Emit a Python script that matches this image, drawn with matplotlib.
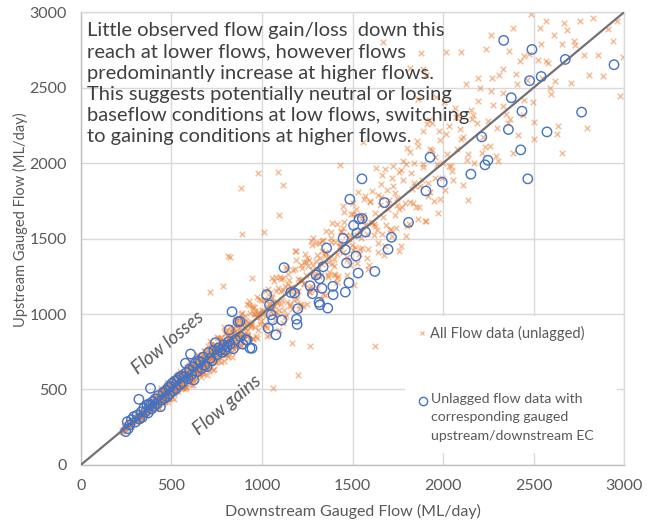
import numpy as np
import matplotlib.pyplot as plt
from matplotlib.lines import Line2D
from matplotlib.patches import Rectangle

plt.rcParams['font.family'] = ['Lato', 'DejaVu Sans']

# all flow data (downstream, upstream) in ML/day, grouped by flow range
all_low = [
    (226, 231), (232, 222), (237, 239), (241, 256), (245, 242), (249, 235), (254, 263), (257, 257),
    (261, 254), (266, 286), (270, 268), (274, 287), (277, 260), (281, 285), (286, 294), (289, 279),
    (293, 320), (296, 290), (300, 313), (303, 282), (307, 307), (312, 329), (315, 300), (319, 326),
    (322, 320), (327, 350), (331, 317), (334, 346), (338, 310), (343, 348), (347, 364), (350, 343),
    (354, 334), (359, 389), (362, 365), (366, 353), (371, 381), (375, 399), (378, 373), (383, 354),
    (387, 403), (391, 391), (394, 383), (398, 437),
    (229, 216), (243, 249), (252, 268), (264, 262), (279, 259), (284, 295), (298, 303), (309, 294),
    (317, 342), (325, 317), (336, 339), (341, 306), (352, 372), (357, 368), (368, 362), (373, 406),
    (381, 357), (389, 389), (396, 415),
    (305, 298), (312, 325), (318, 299), (324, 328), (330, 354), (337, 335), (344, 330), (349, 359),
    (355, 374), (361, 333), (368, 368), (374, 387), (380, 373), (386, 411), (393, 374), (399, 401),
    (405, 415), (412, 397), (418, 453), (424, 419), (430, 407), (437, 458), (444, 452), (450, 420),
    (457, 484), (463, 449), (470, 470), (477, 497), (484, 443), (491, 497),
]

all_mid = [
    (402, 382), (405, 441), (409, 405), (412, 424), (415, 374), (419, 469), (421, 404), (425, 446),
    (428, 398), (431, 435), (434, 469), (438, 425), (441, 507), (444, 417), (447, 456), (451, 410),
    (453, 485), (457, 457), (460, 451), (463, 509), (467, 416), (470, 489), (472, 500), (476, 452),
    (479, 484), (483, 546), (486, 447), (489, 504), (492, 487), (495, 540), (499, 479), (502, 527),
    (505, 444), (509, 519), (511, 567), (515, 484), (518, 518), (521, 557), (525, 509), (528, 491),
    (530, 551), (534, 587), (538, 490), (541, 546), (544, 577), (547, 536), (551, 595), (553, 536),
    (557, 590), (560, 554), (564, 513), (566, 577), (570, 616), (573, 544), (577, 577), (580, 603),
    (583, 519), (586, 592), (590, 549), (593, 646), (596, 584), (600, 576), (603, 633), (606, 527),
    (610, 628), (613, 576), (616, 678), (620, 620), (622, 572), (626, 670), (629, 610), (633, 639),
    (636, 572), (639, 677), (642, 610), (646, 724), (649, 636), (652, 606), (656, 676), (659, 712),
    (662, 583), (666, 659), (669, 702), (672, 645), (676, 615), (679, 693), (683, 758), (686, 645),
    (690, 690), (694, 722), (697, 599),
    (433, 376), (439, 428), (446, 494), (455, 477), (461, 433), (469, 475), (474, 542), (481, 435),
    (487, 469), (497, 539), (504, 516), (513, 439), (519, 550), (527, 489), (536, 600), (543, 536),
    (549, 569), (555, 508), (562, 616), (568, 568), (575, 506), (582, 624), (588, 567), (598, 691),
    (605, 569), (611, 640), (618, 633), (624, 557), (631, 684), (638, 630), (644, 729), (651, 620),
    (658, 658), (664, 704), (671, 607), (678, 662), (684, 758), (688, 696), (692, 642), (699, 724),
    (411, 395), (420, 449), (427, 384), (436, 445), (443, 496), (452, 447), (459, 427), (466, 489),
    (474, 517), (482, 419), (488, 488), (496, 526), (503, 488), (510, 566), (517, 476), (524, 529),
    (531, 552), (539, 507), (546, 622), (552, 541), (559, 509), (567, 612), (574, 591), (581, 517),
    (589, 648), (595, 565), (602, 602), (609, 652), (617, 531), (624, 636), (631, 663), (638, 632),
    (645, 729), (653, 607), (660, 640), (667, 727), (674, 607), (681, 708), (689, 696), (696, 654),
    (508, 508), (514, 502), (520, 554), (529, 539), (535, 509), (542, 568), (549, 542), (556, 576),
    (562, 522), (571, 612), (578, 557), (585, 589), (591, 605), (598, 562), (606, 639), (614, 603),
    (621, 595), (628, 677), (635, 631), (643, 662), (650, 658), (657, 602), (664, 692), (671, 671),
    (679, 659), (686, 727), (693, 647),
]

all_upper_mid = [
    (702, 702), (706, 768), (710, 655), (713, 737), (717, 709), (721, 800), (724, 676), (728, 768),
    (733, 636), (736, 752), (740, 797), (744, 719), (748, 682), (751, 850), (755, 763), (760, 718),
    (763, 797), (767, 843), (771, 754), (775, 681), (779, 830), (782, 782), (786, 751), (790, 912),
    (794, 733), (798, 824), (802, 873), (806, 797), (809, 729), (813, 858), (818, 836), (821, 767),
    (825, 916), (829, 802), (833, 842), (837, 717), (841, 906), (845, 882), (849, 830), (852, 955),
    (857, 782), (861, 861), (865, 922), (868, 820), (873, 959), (877, 867), (881, 910), (884, 787),
    (889, 1006), (893, 854), (897, 946), (901, 832), (905, 915), (909, 989), (913, 883), (917, 1068),
    (921, 860), (925, 945), (929, 837), (933, 1005), (937, 937), (942, 921), (946, 1050), (950, 835),
    (955, 997), (959, 1022), (964, 911), (968, 979), (973, 1112), (978, 892), (983, 1015), (988, 977),
    (993, 1091), (997, 953),
    (704, 658), (712, 823), (719, 700), (731, 626), (739, 797), (746, 746), (757, 688), (765, 795),
    (773, 843), (784, 743), (792, 689), (800, 894), (811, 800), (819, 755), (827, 849), (836, 749),
    (843, 876), (855, 788), (863, 874), (871, 973), (879, 856), (887, 795), (896, 954), (907, 907),
    (915, 867), (927, 1060), (939, 927), (951, 1038), (966, 853), (981, 1007),
    (703, 787), (710, 625), (718, 761), (726, 711), (733, 792), (741, 682), (749, 771), (756, 839),
    (764, 733), (772, 772), (780, 811), (788, 733), (796, 876), (804, 788), (812, 715), (820, 828),
    (829, 887), (838, 796), (846, 770), (855, 966),
    (701, 714), (708, 742), (715, 676), (723, 714), (730, 791), (738, 711), (745, 763), (753, 758),
    (761, 724), (769, 820), (777, 763), (785, 813), (793, 793), (801, 738), (810, 854), (818, 843),
    (826, 791), (835, 830), (843, 904), (852, 862), (860, 808), (869, 906), (877, 856),
    (862, 862), (870, 933), (878, 846), (886, 1003), (894, 808), (902, 913), (911, 955), (919, 853),
    (928, 1084), (936, 914), (945, 843), (954, 1046), (963, 998), (972, 844), (982, 1100), (991, 932),
]

all_high = [
    (1003, 1029), (1011, 932), (1018, 1150), (1024, 984), (1032, 1045), (1039, 863), (1045, 1140),
    (1053, 1108), (1060, 1032), (1066, 1218), (1074, 962), (1081, 1081), (1089, 1174), (1096, 1025),
    (1103, 1232), (1110, 1096), (1118, 1162), (1125, 979), (1133, 1310), (1139, 1080), (1147, 1222),
    (1155, 1050), (1162, 1177), (1170, 1292), (1177, 1131), (1185, 1416), (1192, 1099), (1200, 1231),
    (1208, 1067), (1215, 1326), (1223, 1223), (1231, 1199), (1238, 1399), (1246, 1068), (1253, 1318),
    (1261, 1359), (1269, 1187), (1277, 1294), (1284, 1501), (1292, 1158), (1300, 1351), (1308, 1291),
    (1316, 1470), (1324, 1255), (1331, 1418), (1339, 1130), (1347, 1382), (1355, 1549), (1363, 1257),
    (1371, 1371), (1379, 1504), (1387, 1333), (1395, 1268), (1404, 1477), (1412, 1596), (1420, 1254),
    (1429, 1448), (1437, 1549), (1446, 1408), (1455, 1606), (1463, 1520), (1472, 1357), (1481, 1500),
    (1490, 1664), (1498, 1459),
    (1007, 1021), (1021, 921), (1036, 1167), (1049, 1020), (1063, 1003), (1078, 1153), (1092, 893),
    (1107, 1153), (1121, 1027), (1136, 1295), (1151, 1151), (1166, 1035), (1181, 1297), (1196, 1146),
    (1211, 1228), (1227, 1055), (1242, 1346), (1257, 1169), (1272, 1486), (1288, 1252), (1303, 1175),
    (1319, 1374), (1334, 1483), (1350, 1123), (1366, 1347), (1382, 1479), (1399, 1321), (1416, 1238),
    (1433, 1473), (1451, 1674),
    (1001, 1001), (1013, 1098), (1026, 854), (1038, 1063), (1051, 1114), (1064, 1051), (1077, 1245),
    (1091, 999), (1104, 1064), (1118, 1239), (1132, 996), (1146, 1201), (1160, 1174), (1175, 1090),
    (1189, 1360), (1204, 1031), (1219, 1307), (1234, 1204), (1250, 1370), (1265, 1144), (1281, 1327),
    (1297, 1468), (1313, 1250), (1329, 1329), (1346, 1411), (1362, 1248), (1379, 1544), (1396, 1362),
    (1414, 1210), (1431, 1448), (1449, 1571), (1467, 1379), (1485, 1325),
    (1015, 1094), (1029, 909), (1043, 1070), (1057, 1236), (1071, 1015), (1085, 1071), (1100, 1243),
    (1114, 940), (1128, 1187), (1143, 1262), (1157, 1067), (1172, 1172), (1186, 1417), (1201, 1154),
    (1216, 1058), (1230, 1342), (1245, 1261), (1260, 1145), (1276, 1458), (1291, 1257), (1306, 1391),
    (1322, 1099), (1337, 1493), (1353, 1406), (1369, 1280), (1385, 1601), (1401, 1255), (1417, 1399),
    (1434, 1546), (1450, 1714), (1467, 1257), (1484, 1523),
]

all_upper_high = [
    (1504, 1662), (1513, 1445), (1522, 1339), (1531, 1807), (1541, 1564), (1550, 1434), (1560, 1654),
    (1569, 1781), (1579, 1532), (1589, 1327), (1598, 1742), (1608, 1608), (1618, 1521), (1628, 1970),
    (1639, 1467), (1649, 1723), (1659, 1858), (1669, 1644), (1680, 1453), (1691, 1818), (1701, 1752),
    (1712, 1558), (1723, 1981), (1734, 1656), (1745, 1771), (1756, 1414), (1768, 1954), (1779, 1886),
    (1791, 1737), (1802, 2099), (1814, 1596), (1826, 1826), (1838, 2003), (1850, 1711), (1862, 2113),
    (1875, 1847), (1887, 1972), (1899, 1614), (1912, 2256), (1925, 1810), (1938, 2083), (1951, 1746),
    (1965, 1994), (1978, 2215), (1992, 1902),
    (1508, 1191), (1527, 1655), (1546, 1503), (1565, 1762), (1584, 1429), (1604, 1604), (1623, 1668),
    (1643, 1413), (1663, 1919), (1684, 1590), (1705, 1562), (1726, 1847), (1748, 1724), (1770, 1448),
    (1793, 1994), (1816, 1740), (1840, 1866), (1864, 1629), (1889, 1995), (1914, 1780), (1940, 2266),
    (1956, 1901), (1970, 1667), (1985, 2152), (1997, 1997),
    (1503, 1737), (1522, 1522), (1540, 1429), (1559, 1615), (1578, 1370), (1597, 1750), (1617, 1598),
    (1636, 1557), (1656, 1775), (1676, 1394), (1697, 1738), (1717, 1902), (1738, 1571), (1759, 1696),
    (1780, 2015), (1802, 1586), (1824, 1933), (1846, 1846), (1868, 1711), (1891, 2209), (1914, 1868),
    (1501, 1423), (1518, 1696), (1535, 1395), (1553, 1634), (1570, 1590), (1588, 1299), (1606, 1815),
    (1624, 1582), (1642, 1791), (1661, 1531), (1679, 1963), (1698, 1698), (1717, 1516), (1736, 1804),
    (1755, 1938), (1775, 1706), (1795, 1515), (1815, 2075),
]

all_top = [
    (2008, 1823), (2021, 2061), (2035, 2247), (2049, 1947), (2063, 2364), (2078, 2090), (2093, 2223),
    (2108, 1855), (2124, 2523), (2139, 2062), (2155, 2349), (2171, 2002), (2188, 2262), (2204, 2495),
    (2221, 2172), (2238, 2753), (2256, 2112), (2273, 2382), (2291, 2048), (2309, 2581), (2328, 2375),
    (2346, 2327), (2365, 2743), (2384, 2065), (2404, 2587), (2423, 2675), (2443, 2321), (2463, 2547),
    (2484, 2986), (2504, 2274), (2525, 2682), (2547, 2562), (2568, 2943), (2590, 2497), (2612, 2847),
    (2635, 2245), (2658, 2786), (2681, 2879), (2705, 2532), (2729, 2784), (2753, 2940), (2778, 2717),
    (2803, 2584), (2829, 2960), (2855, 2712), (2881, 2576), (2908, 2890), (2935, 2810), (2962, 2938),
    (2990, 2700),
    (2015, 2190), (2044, 1980), (2072, 2305), (2101, 2160), (2131, 2020), (2162, 2290), (2195, 2410),
    (2229, 2105), (2262, 2480), (2297, 2230), (2333, 2620), (2370, 2290), (2407, 2520), (2445, 2710),
    (2494, 2405), (2540, 2790), (2580, 2660), (2620, 2540), (2665, 2925), (2720, 2810),
    (1832, 1733), (1856, 2146), (1881, 1885), (1905, 1615), (1930, 2096), (1955, 2041), (1980, 1762),
    (2006, 2403), (2031, 1978), (2057, 1888), (2083, 2320), (2110, 2173), (2136, 1752), (2163, 2319),
    (2190, 2562), (2217, 2066), (2245, 2281), (2272, 2563), (2300, 2015), (2329, 2464), (2357, 2263),
    (2386, 2892), (2415, 2183), (2445, 2416), (2474, 2721), (2504, 2158), (2534, 2894), (2565, 2678),
    (2596, 2456), (2627, 2191),
]

# stray readings well off the 1:1 line
all_stray = [
    (884, 1835), (980, 1934), (1118, 1857), (1086, 1943), (1092, 1656), (890, 1528), (815, 1382),
    (822, 1380), (716, 1148), (945, 1237), (1009, 1545), (785, 1183), (1198, 597), (1060, 508),
    (1164, 807), (1267, 785), (1623, 785), (1669, 2801), (1880, 2726), (1887, 2624), (1818, 2631),
    (1864, 2421), (1905, 2583), (1963, 2435), (1923, 2285), (1560, 2141), (1431, 1987), (2018, 2737),
    (2101, 2737), (2266, 2848), (2793, 2233), (2656, 2067), (2977, 2443),
]

# flow data with matching upstream/downstream EC
ec_low = [
    (248, 221), (257, 287), (262, 240), (270, 265), (280, 300), (293, 320), (301, 284), (310, 330),
    (321, 435), (325, 305), (334, 352), (340, 318), (348, 376), (358, 353), (366, 398), (372, 345),
    (378, 405), (385, 508), (385, 397), (392, 372), (398, 420), (405, 390), (412, 438), (420, 405),
    (428, 460), (440, 386), (446, 430), (455, 480), (462, 442), (470, 495), (477, 452), (484, 515),
    (490, 470), (495, 519), (503, 540), (510, 490), (518, 555), (526, 505), (532, 563), (540, 578),
    (548, 532), (555, 590), (563, 548), (569, 585), (578, 674), (584, 612), (592, 572), (600, 635),
    (606, 735), (612, 598), (620, 650), (624, 563), (632, 672), (642, 618), (650, 690), (661, 684),
    (668, 640), (676, 715), (685, 660), (697, 651), (705, 745), (716, 707), (724, 690), (735, 760),
    (743, 810), (752, 730), (760, 775), (771, 762), (780, 745), (790, 795), (798, 760), (807, 784),
    (816, 817), (825, 800), (835, 1015), (842, 770), (854, 829), (868, 949), (881, 850), (895, 800),
    (911, 829), (918, 828), (934, 774), (945, 773),
]

ec_high = [
    (2334, 2812), (2490, 2752), (2674, 2686), (2943, 2651), (2477, 2545), (2541, 2573), (2376, 2432),
    (2435, 2343), (2764, 2337), (2360, 2222), (2573, 2206), (2213, 2173), (2428, 2087), (1928, 2038),
    (2247, 2018), (2231, 1988), (1995, 1873), (2153, 1926), (2467, 1895), (1552, 1895), (1905, 1815),
    (1485, 1760), (1676, 1738), (1809, 1607), (1506, 1587), (1536, 1629), (1554, 1632), (1572, 1543),
    (1524, 1536), (1448, 1501), (1715, 1508), (1357, 1437), (1460, 1426), (1696, 1428), (1519, 1384),
    (1467, 1338), (1338, 1313), (1122, 1307), (1299, 1258), (1531, 1271), (1623, 1282), (1318, 1234),
    (1265, 1187), (1391, 1183), (1331, 1170), (1480, 1207), (1460, 1145), (1279, 1134), (1393, 1128),
    (1159, 1143), (1180, 1139), (1026, 1128), (1315, 1077), (1320, 1061), (1363, 1039), (1042, 1061),
    (1198, 1035), (1051, 995), (1060, 962), (1109, 960), (1191, 966), (1194, 931), (879, 951),
    (1035, 906), (1077, 862), (819, 895),
]

all_pts = np.array(all_low + all_mid + all_upper_mid + all_high + all_upper_high
                   + all_top + all_stray)
ec_pts = np.array(ec_low + ec_high)

fig = plt.figure(figsize=(6.52, 5.22), dpi=100)
ax = fig.add_axes([0.1238, 0.1092, 0.8338, 0.8678])

grid_c = '#D9D9D9'
text_c = '#595959'

ax.scatter(all_pts[:, 0], all_pts[:, 1], marker='x', s=16, linewidths=1.1,
           color='#ED7D31', alpha=0.5, zorder=2)
ax.axline((0, 0), slope=1, color='#767171', lw=1.6, zorder=3)
ax.scatter(ec_pts[:, 0], ec_pts[:, 1], marker='o', s=46, facecolors='none',
           edgecolors='#4472C4', linewidths=1.0, zorder=4)

ax.set_xlim(0, 3000)
ax.set_ylim(0, 3000)
ax.set_xticks(np.arange(0, 3001, 500))
ax.set_yticks(np.arange(0, 3001, 500))
ax.grid(True, color=grid_c, lw=1.0, zorder=0)
ax.set_axisbelow(True)
for sp in ax.spines.values():
    sp.set_color(grid_c)
    sp.set_linewidth(1.0)
ax.spines['left'].set_color('#BFBFBF')
ax.spines['bottom'].set_color('#BFBFBF')
ax.tick_params(length=0, labelsize=11.5, colors=text_c, pad=10)

ax.set_xlabel('Downstream Gauged Flow (ML/day)', fontsize=11.5, color=text_c, labelpad=8)
ax.set_ylabel('Upstream Gauged Flow (ML/day)', fontsize=10.5, color=text_c)
ax.yaxis.set_label_coords(-0.097, 0.541)

note = ('Little observed flow gain/loss  down this\n'
        'reach at lower flows, however flows\n'
        'predominantly increase at higher flows.\n'
        'This suggests potentially neutral or losing\n'
        'baseflow conditions at low flows, switching\n'
        'to gaining conditions at higher flows.')
ax.text(0.012, 0.977, note, transform=ax.transAxes, fontsize=14.5, color='#404040',
        va='top', ha='left', linespacing=1.29)

ax.text(483, 806, 'Flow losses', rotation=39.8, rotation_mode='anchor', ha='center',
        va='center', fontsize=13.5, style='italic', color=text_c)
ax.text(809, 397, 'Flow gains', rotation=39.8, rotation_mode='anchor', ha='center',
        va='center', fontsize=13.5, style='italic', color=text_c)

# legend panel
ax.add_patch(Rectangle((0.597, 0.026), 0.39, 0.303, transform=ax.transAxes,
                       facecolor='white', edgecolor='none', zorder=5))
ax.add_line(Line2D([0.628], [0.291], transform=ax.transAxes, marker='x', markersize=3,
                   color='#ED7D31', alpha=0.5, lw=0, zorder=6))
ax.text(0.643, 0.291, 'All Flow data (unlagged)', transform=ax.transAxes, fontsize=10.5,
        color=text_c, va='center', ha='left', zorder=6)
ax.add_line(Line2D([0.629], [0.141], transform=ax.transAxes, marker='o', markersize=6,
                   markerfacecolor='none', markeredgecolor='#4472C4', lw=0, zorder=6))
ax.text(0.645, 0.160, 'Unlagged flow data with\ncorresponding gauged\nupstream/downstream EC',
        transform=ax.transAxes, fontsize=10.2, color=text_c, va='top', ha='left',
        linespacing=1.68, zorder=6)

fig.savefig('out.png', dpi=100)
